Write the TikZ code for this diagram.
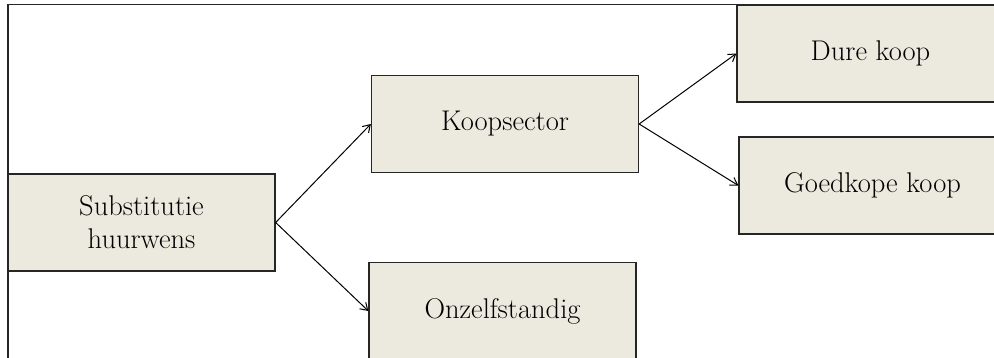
\documentclass[tikz,border=0pt]{standalone}
\usetikzlibrary{arrows.meta}
\definecolor{boxfill}{RGB}{236,233,223}
\begin{document}
\begin{tikzpicture}[x=1pt,y=-1pt,
  box/.style={draw=black!85, line width=1.3pt, fill=boxfill, minimum width=267pt, minimum height=97pt, inner sep=0pt, align=center, font=\fontsize{28.5}{33}\selectfont},
  link/.style={-{Straight Barb[length=7pt,width=9pt]}, line width=1pt}]
\useasboundingbox (0,0) rectangle (994,358);
\clip (0,0) rectangle (994,358);
% outer frame
\draw[line width=1.3pt, draw=black!85] (8,4.5) rectangle (1100,420);
% boxes
\node[box] (subst) at (141.5,222.5) {Substitutie\\huurwens};
\node[box] (koop) at (505,124) {Koopsector};
\node[box] (onzelf) at (502.5,311) {Onzelfstandig};
\node[box] (duur) at (870.5,53.5) {Dure koop};
\node[box] (goedkoop) at (872.5,185.5) {Goedkope koop};
% connectors
\draw[link] (subst.east) -- (koop.west);
\draw[link] (subst.east) -- (onzelf.west);
\draw[link] (koop.east) -- (duur.west);
\draw[link] (koop.east) -- (goedkoop.west);
\end{tikzpicture}
\end{document}
